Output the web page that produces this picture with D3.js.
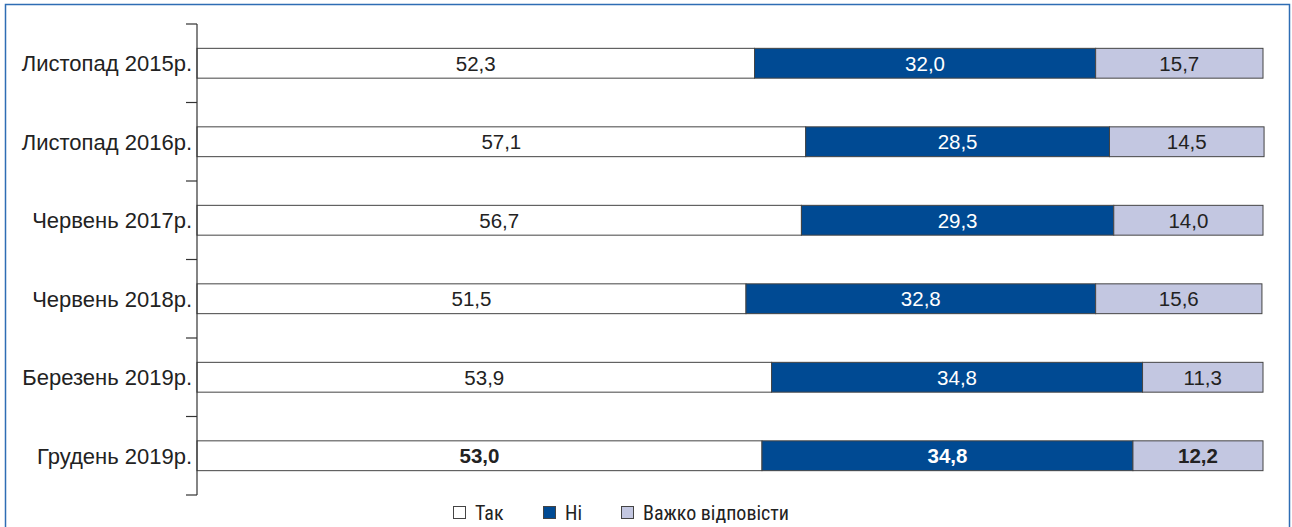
<!DOCTYPE html>
<html><head><meta charset="utf-8">
<script src="https://cdn.jsdelivr.net/npm/d3@7"></script>
<style>body{margin:0;background:#fff;font-family:"Liberation Sans",Arial,sans-serif;}</style>
</head><body>
<svg id="c" width="1292" height="527"></svg>
<script>
const categories = ["Листопад 2015р.","Листопад 2016р.","Червень 2017р.","Червень 2018р.","Березень 2019р.","Грудень 2019р."];
const seriesNames = ["Так","Ні","Важко відповісти"];
const tak = [52.3,57.1,56.7,51.5,53.9,53.0];
const ni = [32.0,28.5,29.3,32.8,34.8,34.8];
const vazhko = [15.7,14.5,14.0,15.6,11.3,12.2];
const colors = ["#ffffff","#004a93","#c3c7e1"];
const textColors = ["#222","#fff","#222"];

const svg = d3.select("#c");
svg.append("rect").attr("x",5.5).attr("y",4.5).attr("width",1284).attr("height",530)
  .attr("fill","none").attr("stroke","#2e6db4").attr("stroke-width",1.5);

const x = d3.scaleLinear().domain([0,100]).range([197,1263]);
const y = d3.scaleBand().domain(categories).range([24,495]).paddingInner(0.62).paddingOuter(0.31);

const series = [tak, ni, vazhko];
const rows = categories.map((c,i)=>{
  let acc=0;
  return series.map((s,k)=>{const o={cat:c,k,v:s[i],x0:acc,x1:acc+s[i],last:i===categories.length-1};acc+=s[i];return o;});
});

const g = svg.append("g");
rows.flat().forEach(d=>{
  g.append("rect").attr("x",x(d.x0)).attr("y",y(d.cat)).attr("width",x(d.x1)-x(d.x0)).attr("height",y.bandwidth())
   .attr("fill",colors[d.k]).attr("stroke","#444").attr("stroke-width",1);
  g.append("text").attr("x",(x(d.x0)+x(d.x1))/2).attr("y",y(d.cat)+y.bandwidth()/2).attr("dy","0.36em")
   .attr("text-anchor","middle").attr("font-size",20.5).attr("fill",textColors[d.k])
   .attr("font-weight",d.last?"bold":"normal").text(d.v.toFixed(1).replace(".",","));
});

const ax = svg.append("g");
ax.append("line").attr("x1",197).attr("x2",197).attr("y1",24).attr("y2",495).attr("stroke","#333").attr("stroke-width",1.2);
d3.range(categories.length+1).forEach(i=>{
  const yy = 24 + i*(471/categories.length);
  ax.append("line").attr("x1",186).attr("x2",197).attr("y1",yy).attr("y2",yy).attr("stroke","#333").attr("stroke-width",1.2);
});
categories.forEach(c=>{
  ax.append("text").attr("x",192).attr("y",y(c)+y.bandwidth()/2).attr("dy","0.36em").attr("text-anchor","end")
    .attr("font-size",22).attr("fill","#222").text(c);
});

const legX = [453,543,621];
seriesNames.forEach((n,k)=>{
  svg.append("rect").attr("x",legX[k]+0.5).attr("y",506.5).attr("width",12).attr("height",12)
    .attr("fill",colors[k]).attr("stroke","#444").attr("stroke-width",1);
  svg.append("text").attr("x",legX[k]+22).attr("y",512.5).attr("dy","0.36em").attr("font-size",20)
    .attr("font-family","'Liberation Sans Narrow','Roboto Condensed',Arial,sans-serif").attr("fill","#222").text(n);
});
</script>
</body></html>
